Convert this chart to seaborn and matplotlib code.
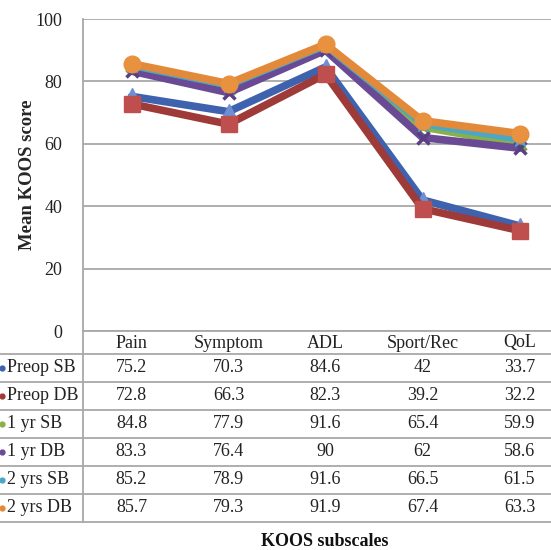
import matplotlib
matplotlib.use("Agg")
import matplotlib.pyplot as plt
import matplotlib.transforms as mtransforms
from matplotlib.lines import Line2D
import seaborn as sns
import pandas as pd

categories = ["Pain", "Symptom", "ADL", "Sport/Rec", "QoL"]
series_names = ["Preop SB", "Preop DB", "1 yr SB", "1 yr DB", "2 yrs SB", "2 yrs DB"]
preop_sb = [75.2, 70.3, 84.6, 42, 33.7]
preop_db = [72.8, 66.3, 82.3, 39.2, 32.2]
yr1_sb = [84.8, 77.9, 91.6, 65.4, 59.9]
yr1_db = [83.3, 76.4, 90, 62, 58.6]
yr2_sb = [85.2, 78.9, 91.6, 66.5, 61.5]
yr2_db = [85.7, 79.3, 91.9, 67.4, 63.3]
values = [preop_sb, preop_db, yr1_sb, yr1_db, yr2_sb, yr2_db]
value_labels = [[f"{v:g}" for v in s] for s in values]
y_ticks = [0, 20, 40, 60, 80, 100]

colors = ["#3F62AE", "#9E3A38", "#8AB04A", "#6A4A94", "#4BA7C4", "#E38A3A"]
mcolors = ["#6E8FD4", "#BF4F4F", "#7FA040", "#5A3F85", "#4BA7C4", "#E8913F"]
markers = ["^", "s", "x", "x", "*", "o"]

rows = []
for name, vals in zip(series_names, values):
    for c, v in zip(categories, vals):
        rows.append({"series": name, "subscale": c, "score": v})
df = pd.DataFrame(rows)

sns.set_theme(style="white")
plt.rcParams["font.family"] = ["Liberation Serif", "DejaVu Serif"]

W, H = 551, 550
fig = plt.figure(figsize=(W / 100, H / 100), dpi=100)
ax_left, ax_right, ax_top, ax_bot = 83, 568, 19, 331
ax_w = ax_right - ax_left
ax = fig.add_axes([ax_left / W, 1 - ax_bot / H, ax_w / W, (ax_bot - ax_top) / H])

for i, name in enumerate(series_names):
    sub = df[df["series"] == name]
    sns.lineplot(data=sub, x="subscale", y="score", ax=ax, color=colors[i], lw=5.5,
                 marker=markers[i], markersize=12 if markers[i] != "x" else 9,
                 markerfacecolor=mcolors[i], markeredgecolor=mcolors[i],
                 markeredgewidth=1.0 if markers[i] != "x" else 2.5,
                 sort=False, zorder=3 + i, legend=False)

ax.set_xlim(-0.5, 4.5)
ax.set_ylim(0, 100)
ax.set_yticks(y_ticks)
ax.set_yticklabels([str(t) for t in y_ticks], fontsize=13, color="#222222")
ax.tick_params(axis="y", length=0, pad=15)
ax.set_xticks(range(len(categories)))
ax.set_xticklabels([])
ax.tick_params(axis="x", length=0)
ax.set_xlabel("")
ax.set_ylabel("Mean KOOS score", fontsize=13.5, fontweight="bold", va="center")
ax.yaxis.set_label_coords((28 - ax_left) / ax_w, 0.5)
ax.grid(axis="y", color="#A8A8A8", lw=1.3)
for s in ["top", "right"]:
    ax.spines[s].set_visible(False)
ax.spines["left"].set_color("#A8A8A8")
ax.spines["bottom"].set_color("#A8A8A8")
ax.spines["left"].set_linewidth(1.3)
ax.spines["bottom"].set_linewidth(1.3)

# data table below the plot
blend = mtransforms.blended_transform_factory(ax.transData, fig.transFigure)
fy = lambda p: 1 - p / H
row_lines = [354, 382, 410, 438, 466, 494, 522]
for yl in row_lines:
    fig.add_artist(Line2D([0, 1], [fy(yl), fy(yl)], transform=fig.transFigure, color="#A8A8A8", lw=1.3))
fig.add_artist(Line2D([ax_left / W, ax_left / W], [fy(331), fy(522)], transform=fig.transFigure, color="#A8A8A8", lw=1.3))

for j, c in enumerate(categories):
    fig.text(j, fy(343), c, transform=blend, ha="center", va="center", fontsize=13, color="#222222")
for i, name in enumerate(series_names):
    yc = fy((row_lines[i] + row_lines[i + 1]) / 2)
    fig.add_artist(Line2D([2 / W], [yc], transform=fig.transFigure, marker="o", markersize=3.5,
                          color=colors[i], lw=0))
    fig.text(7 / W, yc, name, ha="left", va="center", fontsize=13, color="#222222")
    for j, lab in enumerate(value_labels[i]):
        fig.text(j, yc, lab, transform=blend, ha="center", va="center", fontsize=13, color="#222222")

fig.text(325 / W, fy(541), "KOOS subscales", ha="center", va="center",
         fontsize=13, fontweight="bold", color="#111111")

fig.savefig("out.png", dpi=100)
